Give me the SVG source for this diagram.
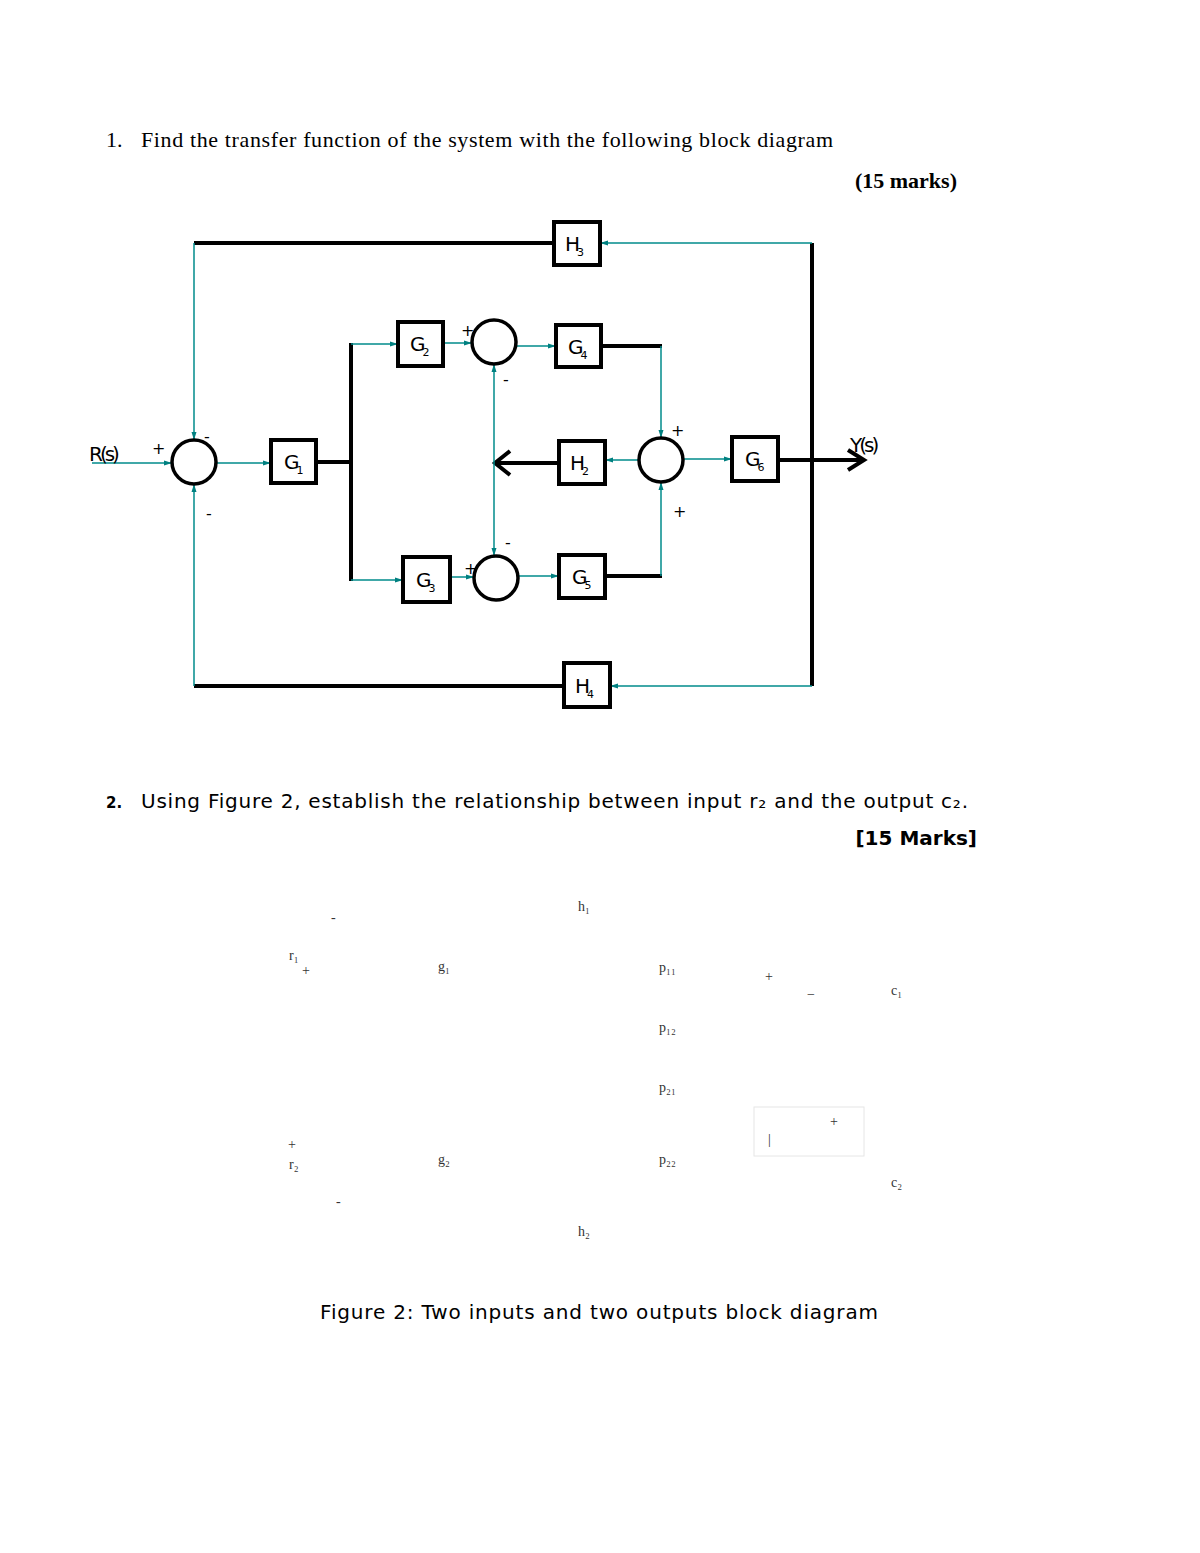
<svg xmlns="http://www.w3.org/2000/svg" width="1200" height="1553" viewBox="0 0 1200 1553">
<defs>
<marker id="a" markerWidth="8" markerHeight="6" refX="8" refY="3" orient="auto" markerUnits="userSpaceOnUse"><path d="M0,0.5 L8,3 L0,5.5z" fill="#008080"/></marker>
</defs>
<style>
.b{fill:#fff;stroke:#000;stroke-width:4}
.c{fill:#fff;stroke:#000;stroke-width:3.5}
.t{fill:none;stroke:#008b8b;stroke-width:1.5;marker-end:url(#a)}
.k{fill:none;stroke:#000;stroke-width:4}
.l{font-family:"DejaVu Sans",sans-serif;font-size:20px;letter-spacing:-3px}
.s{font-family:"DejaVu Sans",sans-serif;font-size:11px}
.p{font-family:"DejaVu Sans",sans-serif;font-size:16px}
.f{font-family:"Liberation Serif",serif;font-size:14px;fill:#333}
</style>
<rect width="1200" height="1553" fill="#fff"/>
<text x="106" y="147" font-family="Liberation Serif,serif" font-size="22">1.</text>
<text x="141" y="147" font-family="Liberation Serif,serif" font-size="22" textLength="692" lengthAdjust="spacing">Find the transfer function of the system with the following block diagram</text>
<text x="957" y="188" text-anchor="end" font-family="Liberation Serif,serif" font-size="22" font-weight="bold">(15 marks)</text>
<g id="connectors">
<path class="k" d="M194,243H554M812,243V686M194,686H564M316,462H351M351,343V581M601,346H662M605,576H662M559,463H494M778,460H862"/>
<path class="k" d="M510,451L495,463L510,475M848,450L864,460L848,470"/>
<path class="t" d="M92,463H172"/><path class="t" d="M216,463H271"/><path class="t" d="M351,344H398"/>
<path class="t" d="M443,343H472"/><path class="t" d="M516,346H556"/><path class="t" d="M661,346V438"/>
<path class="t" d="M661,576V482"/><path class="t" d="M639,460H605"/><path class="t" d="M683,459H732"/>
<path class="t" d="M351,580H403"/><path class="t" d="M450,577H474"/><path class="t" d="M518,576H559"/>
<path class="t" d="M812,243H600"/><path class="t" d="M812,686H610"/><path class="t" d="M194,243V440"/>
<path class="t" d="M194,686V484"/><path class="t" d="M494,463V364"/><path class="t" d="M494,463V556"/>
</g>
<g id="sum1"><circle class="c" cx="194" cy="462" r="22"/></g>
<g id="sum2"><circle class="c" cx="494" cy="342" r="22"/></g>
<g id="sum3"><circle class="c" cx="496" cy="578" r="22"/></g>
<g id="sum4"><circle class="c" cx="661" cy="460" r="22"/></g>
<g id="H3"><rect class="b" x="554" y="222" width="46" height="43"/><text class="l" x="565" y="251">H<tspan class="s" dy="5">3</tspan></text></g>
<g id="G2"><rect class="b" x="398" y="322" width="45" height="44"/><text class="l" x="410" y="351">G<tspan class="s" dy="5">2</tspan></text></g>
<g id="G4"><rect class="b" x="556" y="325" width="45" height="42"/><text class="l" x="568" y="354">G<tspan class="s" dy="5">4</tspan></text></g>
<g id="G1"><rect class="b" x="271" y="440" width="45" height="43"/><text class="l" x="284" y="469">G<tspan class="s" dy="5">1</tspan></text></g>
<g id="H2"><rect class="b" x="559" y="441" width="46" height="43"/><text class="l" x="570" y="470">H<tspan class="s" dy="5">2</tspan></text></g>
<g id="G6"><rect class="b" x="732" y="437" width="46" height="44"/><text class="l" x="745" y="466">G<tspan class="s" dy="5">6</tspan></text></g>
<g id="G3"><rect class="b" x="403" y="557" width="47" height="45"/><text class="l" x="416" y="587">G<tspan class="s" dy="5">3</tspan></text></g>
<g id="G5"><rect class="b" x="559" y="555" width="46" height="43"/><text class="l" x="572" y="584">G<tspan class="s" dy="5">5</tspan></text></g>
<g id="H4"><rect class="b" x="564" y="663" width="46" height="44"/><text class="l" x="575" y="693">H<tspan class="s" dy="5">4</tspan></text></g>
<g id="signs" class="p">
<text x="152" y="454">+</text><text x="204" y="442">-</text><text x="206" y="519">-</text>
<text x="461" y="336">+</text><text x="503" y="385">-</text><text x="505" y="548">-</text><text x="464" y="574">+</text>
<text x="671" y="436">+</text><text x="673" y="517">+</text>
<text x="89" y="461" class="l" font-size="18">R(s)</text><text x="850" y="452" class="l" font-size="18">Y(s)</text>
</g>
<text x="106" y="808" font-family="DejaVu Sans,sans-serif" font-size="15" font-weight="bold">2.</text>
<text x="141" y="808" font-family="DejaVu Sans,sans-serif" font-size="20" textLength="827" lengthAdjust="spacing">Using Figure 2, establish the relationship between input r₂ and the output c₂.</text>
<text x="977" y="845" text-anchor="end" font-family="DejaVu Sans,sans-serif" font-size="20" font-weight="bold">[15 Marks]</text>
<g id="fig2">
<rect x="754" y="1107" width="110" height="49" fill="none" stroke="#e6e6e6"/>
<text class="f" x="578" y="911">h₁</text><text class="f" x="331" y="922">-</text>
<text class="f" x="289" y="960">r₁</text><text class="f" x="302" y="975">+</text>
<text class="f" x="438" y="971">g₁</text><text class="f" x="659" y="972">p₁₁</text>
<text class="f" x="765" y="981">+</text><text class="f" x="807" y="999">−</text><text class="f" x="891" y="995">c₁</text>
<text class="f" x="659" y="1032">p₁₂</text><text class="f" x="659" y="1092">p₂₁</text>
<text class="f" x="830" y="1126" fill="#999">+</text><text class="f" x="768" y="1144" fill="#999">|</text>
<text class="f" x="288" y="1149">+</text><text class="f" x="289" y="1169">r₂</text>
<text class="f" x="438" y="1164">g₂</text><text class="f" x="659" y="1164">p₂₂</text>
<text class="f" x="891" y="1187">c₂</text><text class="f" x="336" y="1206">-</text><text class="f" x="578" y="1236">h₂</text>
</g>
<text x="320" y="1319" font-family="DejaVu Sans,sans-serif" font-size="20" textLength="558" lengthAdjust="spacing">Figure 2: Two inputs and two outputs block diagram</text>
</svg>
